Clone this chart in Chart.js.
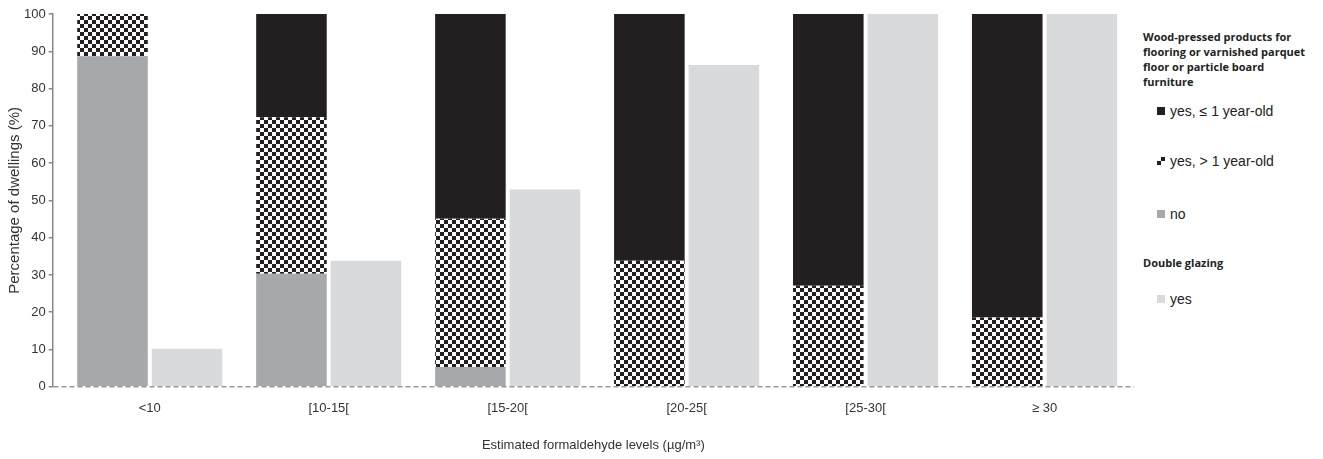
<!DOCTYPE html>
<html>
<head>
<meta charset="utf-8">
<script src="https://cdn.jsdelivr.net/npm/chart.js@4"></script>
<style>
  html, body { margin: 0; padding: 0; background: #fff; }
  #wrap { position: relative; width: 1323px; height: 459px; }
  #box { position: absolute; left: 0; top: 0; width: 1140px; height: 459px; }
  #legend { position: absolute; left: 1143px; top: 0; width: 180px; font-family: "Liberation Sans", Arial, sans-serif; color: #222; }
  .ttl { position: absolute; left: 0; font-family: "Open Sans", "Noto Sans", sans-serif; font-weight: bold; font-size: 11px; line-height: 15px; width: 170px; }
  .item { position: absolute; left: 14px; font-size: 14px; white-space: nowrap; }
  .sw { display: inline-block; width: 8px; height: 8px; margin-right: 5px; vertical-align: 1px; }
</style>
</head>
<body>
<div id="wrap">
  <div id="box"><canvas id="chart"></canvas></div>
  <div id="legend">
    <div class="ttl" style="top:29px">Wood-pressed products for flooring or varnished parquet floor or particle board furniture</div>
    <div class="item" style="top:103px"><span class="sw" style="background:#231f20"></span>yes, ≤ 1 year-old</div>
    <div class="item" style="top:153px"><span class="sw" style="background:conic-gradient(#231f20 0 25%, #fff 0 50%, #231f20 0 75%, #fff 0);background-size:8px 8px"></span>yes, &gt; 1 year-old</div>
    <div class="item" style="top:206px"><span class="sw" style="background:#a7a8ab"></span>no</div>
    <div class="ttl" style="top:255px">Double glazing</div>
    <div class="item" style="top:291px"><span class="sw" style="background:#d9dadc"></span>yes</div>
  </div>
</div>
<script>
// categories and values
const categories = ['<10', '[10-15[', '[15-20[', '[20-25[', '[25-30[', '≥ 30'];
const woodNo      = [88.7, 30.3, 5.3, 0, 0, 0];
const woodOld     = [11.3, 42.0, 39.8, 33.8, 27.1, 18.6];
const woodRecent  = [0, 27.7, 54.9, 66.2, 72.9, 81.4];
const doubleGlazing = [10.2, 33.8, 52.9, 86.3, 100, 100];
const yTicks = [0, 10, 20, 30, 40, 50, 60, 70, 80, 90, 100];

// checkerboard fill for "yes, > 1 year-old"
const pc = document.createElement('canvas');
pc.width = 8; pc.height = 8;
const pctx = pc.getContext('2d');
pctx.fillStyle = '#fff'; pctx.fillRect(0, 0, 8, 8);
pctx.fillStyle = '#231f20';
pctx.fillRect(0, 0, 4, 4); pctx.fillRect(4, 4, 4, 4);
const checker = pctx.createPattern(pc, 'repeat');

// x is a linear index axis so the first category can sit a bit away from the y axis
const toPoints = (arr) => arr.map((v, i) => ({ x: i, y: v }));
const common = { categoryPercentage: 0.833, barPercentage: 0.947, borderWidth: 0 };

new Chart(document.getElementById('chart'), {
  type: 'bar',
  data: {
    datasets: [
      { label: 'no', data: toPoints(woodNo), backgroundColor: '#a7a8ab', stack: 'wood', ...common },
      { label: 'yes, > 1 year-old', data: toPoints(woodOld), backgroundColor: checker, stack: 'wood', ...common },
      { label: 'yes, ≤ 1 year-old', data: toPoints(woodRecent), backgroundColor: '#231f20', stack: 'wood', ...common },
      { label: 'Double glazing yes', data: toPoints(doubleGlazing), backgroundColor: '#d9dadc', stack: 'glaz', ...common }
    ]
  },
  options: {
    responsive: true,
    maintainAspectRatio: false,
    animation: false,
    layout: { padding: { top: 14, right: 6, left: 1, bottom: 4 } },
    plugins: { legend: { display: false }, tooltip: { enabled: false } },
    scales: {
      x: {
        type: 'linear',
        stacked: true,
        offset: false,
        min: -0.5425, max: 5.5,
        afterBuildTicks: (axis) => { axis.ticks = categories.map((c, i) => ({ value: i })); },
        grid: { display: false, drawTicks: false },
        border: { display: false },
        ticks: { color: '#333', font: { family: 'Liberation Sans', size: 13 }, padding: 14, callback: (v) => categories[v] },
        title: { display: true, text: 'Estimated formaldehyde levels (µg/m³)', color: '#333', font: { family: 'Liberation Sans', size: 13 }, padding: { top: 7, bottom: 2 } }
      },
      y: {
        stacked: true,
        min: 0, max: 100,
        afterBuildTicks: (axis) => { axis.ticks = yTicks.map(v => ({ value: v })); },
        // only the zero line is drawn across the plot, dashed, as the x baseline
        grid: {
          drawOnChartArea: true, drawTicks: true, tickLength: 4,
          color: (c) => (c.tick && c.tick.value === 0 ? '#9a9a9a' : 'rgba(0,0,0,0)'),
          tickColor: '#888', lineWidth: 1.5
        },
        border: { display: true, color: '#888', width: 1.5, dash: [5, 3] },
        ticks: { color: '#333', font: { family: 'Liberation Sans', size: 13 }, padding: 3 },
        title: { display: true, text: 'Percentage of dwellings (%)', color: '#333', font: { family: 'Liberation Sans', size: 15 }, padding: { top: 5, bottom: -3 } }
      }
    }
  }
});
</script>
</body>
</html>
